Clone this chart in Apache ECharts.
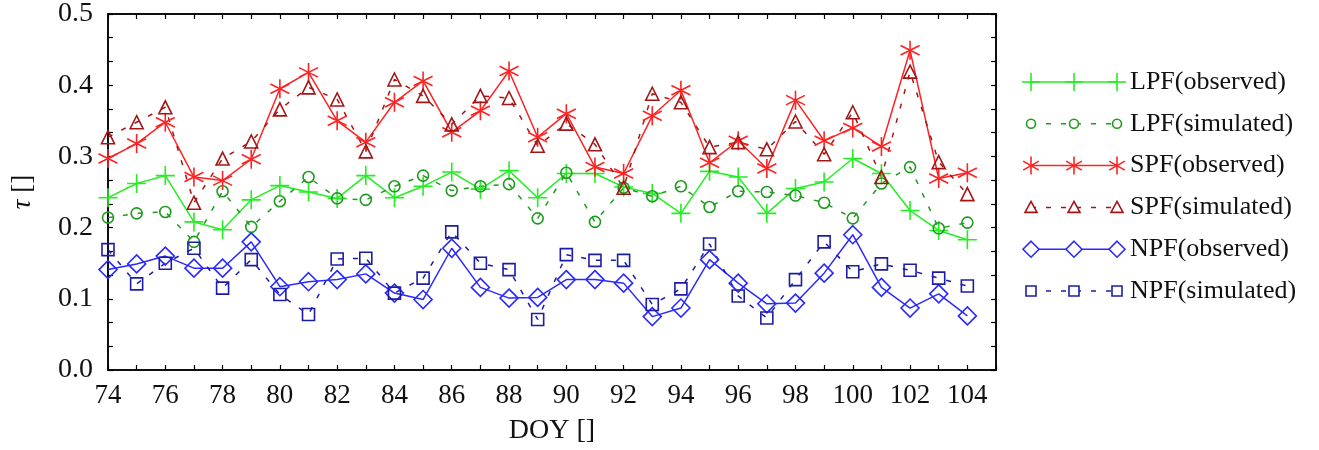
<!DOCTYPE html>
<html>
<head>
<meta charset="utf-8">
<script src="https://cdn.jsdelivr.net/npm/echarts@6/dist/echarts.min.js"></script>
<style>
  html, body { margin: 0; padding: 0; background: #fff; }
  #chart { width: 1319px; height: 450px; }
</style>
</head>
<body>
<div id="chart"></div>
<script>
// Day of year, 74..104
const days = [];
for (let d = 74; d <= 104; d++) days.push(d);

const lpfObserved = [0.242,0.262,0.273,0.208,0.197,0.239,0.259,0.250,0.241,0.273,0.242,0.258,0.278,0.254,0.280,0.242,0.276,0.276,0.257,0.248,0.220,0.279,0.271,0.220,0.255,0.264,0.297,0.276,0.224,0.196,0.183];
const lpfSimulated = [0.214,0.220,0.222,0.180,0.251,0.201,0.237,0.271,0.241,0.239,0.258,0.273,0.252,0.258,0.261,0.213,0.277,0.208,0.256,0.244,0.258,0.229,0.251,0.250,0.245,0.235,0.213,0.262,0.285,0.199,0.207];
const spfObserved = [0.297,0.318,0.348,0.271,0.266,0.296,0.395,0.418,0.350,0.320,0.376,0.406,0.334,0.364,0.420,0.327,0.360,0.285,0.276,0.357,0.393,0.291,0.322,0.283,0.379,0.322,0.340,0.314,0.449,0.269,0.277];
const spfSimulated = [0.327,0.348,0.369,0.235,0.297,0.321,0.366,0.397,0.380,0.307,0.408,0.385,0.345,0.385,0.382,0.315,0.346,0.317,0.256,0.388,0.376,0.313,0.320,0.310,0.349,0.303,0.362,0.271,0.419,0.292,0.247];
const npfObserved = [0.141,0.149,0.160,0.143,0.143,0.180,0.117,0.124,0.127,0.135,0.108,0.099,0.171,0.116,0.101,0.102,0.127,0.127,0.122,0.075,0.087,0.155,0.122,0.093,0.094,0.136,0.190,0.116,0.087,0.107,0.076];
const npfSimulated = [0.169,0.121,0.150,0.171,0.115,0.155,0.106,0.078,0.156,0.157,0.108,0.129,0.194,0.150,0.141,0.071,0.162,0.154,0.154,0.092,0.114,0.177,0.104,0.073,0.127,0.180,0.138,0.149,0.140,0.129,0.118];

const yTicks = [0.0, 0.1, 0.2, 0.3, 0.4, 0.5];

const FONT = '"Liberation Serif", "DejaVu Serif", serif';

// Stroke-only symbol paths
const PLUS = 'path://M10 0 L10 20 M0 10 L20 10';
const ASTER = 'path://M10 0 L10 20 M1.34 5 L18.66 15 M1.34 15 L18.66 5';

const seriesDefs = [
  { name: 'LPF(observed)',  data: lpfObserved,  color: '#22ee22', dash: 'solid', symbol: PLUS,       size: 19, kind: 'plus' },
  { name: 'LPF(simulated)', data: lpfSimulated, color: '#1f9a1f', dash: [5, 10], symbol: 'circle',   size: 11, kind: 'circle' },
  { name: 'SPF(observed)',  data: spfObserved,  color: '#ff2222', dash: 'solid', symbol: ASTER,      size: 19, kind: 'aster' },
  { name: 'SPF(simulated)', data: spfSimulated, color: '#a31616', dash: [5, 10], symbol: 'triangle', size: 13, kind: 'triangle' },
  { name: 'NPF(observed)',  data: npfObserved,  color: '#2a2aff', dash: 'solid', symbol: 'diamond',  size: 18, kind: 'diamond' },
  { name: 'NPF(simulated)', data: npfSimulated, color: '#1c1ca6', dash: [5, 10], symbol: 'rect',     size: 12, kind: 'rect' }
];

const series = seriesDefs.map(s => ({
  name: s.name,
  type: 'line',
  data: days.map((d, i) => [d, s.data[i]]),
  symbol: s.symbol,
  symbolSize: s.size,
  showAllSymbol: true,
  lineStyle: { color: s.color, width: 1.5, type: s.dash },
  itemStyle: { color: 'rgba(255,255,255,0)', borderColor: s.color, borderWidth: 1.6 },
  emphasis: { disabled: true },
  animation: false,
  z: 3
}));

// Legend samples: line with three markers, then the label
const graphics = [];
const legendX0 = 1031, legendX1 = 1117, legendTextX = 1130;
const legendY0 = 82, legendDy = 41.8;
function markerShapes(kind, cx, cy, color) {
  const st = { stroke: color, fill: 'rgba(255,255,255,0)', lineWidth: 1.6 };
  if (kind === 'plus') {
    return [
      { type: 'line', shape: { x1: cx, y1: cy - 9, x2: cx, y2: cy + 9 }, style: st },
      { type: 'line', shape: { x1: cx - 9, y1: cy, x2: cx + 9, y2: cy }, style: st }
    ];
  }
  if (kind === 'aster') {
    const r = 9, a = r * Math.cos(Math.PI / 6), b = r * 0.5;
    return [
      { type: 'line', shape: { x1: cx, y1: cy - r, x2: cx, y2: cy + r }, style: st },
      { type: 'line', shape: { x1: cx - a, y1: cy - b, x2: cx + a, y2: cy + b }, style: st },
      { type: 'line', shape: { x1: cx - a, y1: cy + b, x2: cx + a, y2: cy - b }, style: st }
    ];
  }
  if (kind === 'circle') return [{ type: 'circle', shape: { cx, cy, r: 4.5 }, style: Object.assign({}, st, { fill: '#fff' }) }];
  if (kind === 'triangle') return [{ type: 'polygon', shape: { points: [[cx, cy - 6], [cx + 6, cy + 5], [cx - 6, cy + 5]] }, style: Object.assign({}, st, { fill: '#fff' }) }];
  if (kind === 'diamond') return [{ type: 'polygon', shape: { points: [[cx, cy - 8], [cx + 8, cy], [cx, cy + 8], [cx - 8, cy]] }, style: Object.assign({}, st, { fill: '#fff' }) }];
  if (kind === 'rect') return [{ type: 'rect', shape: { x: cx - 5, y: cy - 5, width: 10, height: 10 }, style: Object.assign({}, st, { fill: '#fff' }) }];
  return [];
}
seriesDefs.forEach((s, i) => {
  const cy = legendY0 + i * legendDy;
  graphics.push({
    type: 'line',
    shape: { x1: legendX0, y1: cy, x2: legendX1, y2: cy },
    style: { stroke: s.color, lineWidth: 1.5, lineDash: s.dash === 'solid' ? null : s.dash },
    z: 10
  });
  [legendX0, (legendX0 + legendX1) / 2, legendX1].forEach(cx => {
    markerShapes(s.kind, cx, cy, s.color).forEach(g => { g.z = 11; graphics.push(g); });
  });
  graphics.push({
    type: 'text',
    x: legendTextX, y: cy,
    style: { text: s.name, font: '26px ' + FONT, fill: '#111', verticalAlign: 'middle', textAlign: 'left' },
    z: 11
  });
});

const tickCommon = { show: true, inside: true, length: 5, lineStyle: { color: '#000', width: 1.2 } };

const option = {
  backgroundColor: '#fff',
  animation: false,
  grid: { left: 108, right: 323, top: 13, bottom: 79, show: true, borderColor: '#000', borderWidth: 1.5, backgroundColor: 'transparent' },
  xAxis: [
    {
      type: 'value', min: 74, max: 105, interval: 1,
      name: 'DOY []', nameLocation: 'middle', nameGap: 47,
      nameTextStyle: { fontFamily: FONT, fontSize: 28, color: '#111' },
      axisLine: { show: true, onZero: false, lineStyle: { color: '#000', width: 1.5 } },
      axisTick: tickCommon,
      splitLine: { show: false },
      axisLabel: {
        fontFamily: FONT, fontSize: 27, color: '#111', margin: 12,
        formatter: v => (v % 2 === 0 && v <= 104) ? String(v) : ''
      }
    },
    {
      type: 'value', min: 74, max: 105, interval: 1, position: 'top',
      axisLine: { show: true, onZero: false, lineStyle: { color: '#000', width: 1.5 } },
      axisTick: tickCommon, axisLabel: { show: false }, splitLine: { show: false }
    }
  ],
  yAxis: [
    {
      type: 'value', min: yTicks[0], max: yTicks[yTicks.length - 1], interval: 0.1,
      name: '{i|τ} []', nameLocation: 'middle', nameGap: 72, nameRotate: 90,
      nameTextStyle: { fontFamily: FONT, fontSize: 27, color: '#111', rich: { i: { fontFamily: FONT, fontSize: 27, fontStyle: 'italic', color: '#111' } } },
      axisLine: { show: true, onZero: false, lineStyle: { color: '#000', width: 1.5 } },
      axisTick: tickCommon,
      minorTick: { show: true, splitNumber: 3, length: 5, lineStyle: { color: '#000', width: 1.2 } },
      splitLine: { show: false }, minorSplitLine: { show: false },
      axisLabel: { fontFamily: FONT, fontSize: 28, color: '#111', margin: 15, formatter: v => v.toFixed(1) }
    },
    {
      type: 'value', min: 0, max: 0.5, interval: 0.1, position: 'right',
      axisLine: { show: true, onZero: false, lineStyle: { color: '#000', width: 1.5 } },
      axisTick: tickCommon,
      minorTick: { show: true, splitNumber: 3, length: 5, lineStyle: { color: '#000', width: 1.2 } },
      axisLabel: { show: false }, splitLine: { show: false }
    }
  ],
  series: series,
  graphic: graphics
};

const chart = echarts.init(document.getElementById('chart'), null, { renderer: 'canvas' });
chart.setOption(option);
</script>
</body>
</html>
